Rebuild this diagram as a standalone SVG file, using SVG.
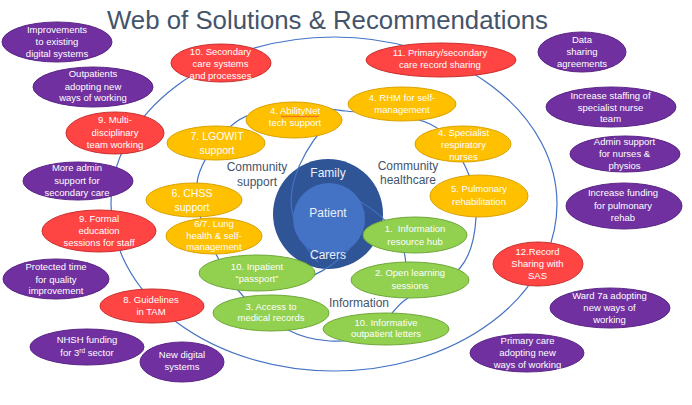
<svg xmlns="http://www.w3.org/2000/svg" width="692" height="405" viewBox="0 0 692 405">
<style>
.bg{fill:#ffffff}
.ln{fill:none;stroke:#4472C4;stroke-width:1.2}
.p{fill:#7030A0;stroke:#5B2586;stroke-width:1}
.r{fill:#FF4444;stroke:#C9302C;stroke-width:1}
.y{fill:#FFC000;stroke:#D9A200;stroke-width:1}
.g{fill:#92D050;stroke:#6FA83A;stroke-width:1}
.t{font-family:"Liberation Sans",Arial,sans-serif;font-size:9.5px;fill:#ffffff;text-anchor:middle}
.tl{font-size:10.5px}
.lbl{font-family:"Liberation Sans",Arial,sans-serif;font-size:12px;fill:#44546A;text-anchor:middle}
.ctr{font-family:"Liberation Sans",Arial,sans-serif;font-size:12px;fill:#EAF0FA;text-anchor:middle}
</style>
<rect class="bg" x="0" y="0" width="692" height="405"/>
<text x="107" y="29" font-family="Liberation Sans, Arial, sans-serif" font-size="25" fill="#44546A" textLength="441" lengthAdjust="spacingAndGlyphs">Web of Solutions &amp; Recommendations</text>

<g id="hub">
<circle cx="328" cy="214" r="55" fill="#2F5597"/>
<circle cx="329" cy="219" r="36" fill="#4472C4"/>
</g>

<g id="connectors">
<ellipse class="ln" cx="334" cy="204" rx="223" ry="167"/>
<path class="ln" d="M346,111 C369.3,113.8 410,114.5 430,124 C450,133.5 458.3,152.3 466,168 C473.7,183.7 477,201.3 476,218 C475,234.7 471.8,254.3 460,268 C448.2,281.7 419.7,289 405,300 C390.3,311 384.5,327.2 372,334 C359.5,340.8 344,341.7 330,341 C316,340.3 302.5,337.5 288,330 C273.5,322.5 254.8,308.3 243,296 C231.2,283.7 224.2,269.5 217,256 C209.8,242.5 202.8,229.2 200,215 C197.2,200.8 194,186.5 200,171 C206,155.5 221,132.7 236,122 C251,111.3 271.7,108.8 290,107 C308.3,105.2 322.7,108.2 346,111 Z"/>
<path class="ln" d="M333,118 C305,145 285,185 293,215 C298,235 305,248 318,262"/>
<path class="ln" d="M265,289 C300,286 350,265 362,225"/>
<path class="ln" d="M345,195 C360,200 380,212 395,232 C405,245 408,262 405,285"/>
</g>

<g id="hub-labels">
<text class="ctr" x="328" y="177">Family</text>
<text class="ctr" x="328" y="217">Patient</text>
<text class="ctr" x="328" y="259">Carers</text>
</g>

<g id="sector-labels">
<text class="lbl" x="257" y="171">Community</text>
<text class="lbl" x="257" y="186">support</text>
<text class="lbl" x="408" y="169.5">Community</text>
<text class="lbl" x="408" y="184">healthcare</text>
<text class="lbl" x="359" y="307">Information</text>
</g>

<g id="n1"><ellipse class="p" cx="57" cy="42" rx="55" ry="20"/><text class="t"><tspan x="57" y="33.3">Improvements</tspan><tspan x="57" y="45.3">to existing</tspan><tspan x="57" y="57.3">digital systems</tspan></text></g>
<g id="n2"><ellipse class="p" cx="93" cy="87" rx="60" ry="20"/><text class="t"><tspan x="93" y="77.3">Outpatients</tspan><tspan x="93" y="90.3">adopting new</tspan><tspan x="93" y="101.3">ways of working</tspan></text></g>
<g id="n3"><ellipse class="r" cx="115" cy="133" rx="49" ry="21"/><text class="t"><tspan x="115" y="123.3">9. Multi-</tspan><tspan x="115" y="136.3">disciplinary</tspan><tspan x="115" y="148.3">team working</tspan></text></g>
<g id="n4"><ellipse class="p" cx="78" cy="181" rx="55" ry="19"/><text class="t"><tspan x="77" y="171.3">More admin</tspan><tspan x="77" y="184.3">support for</tspan><tspan x="77" y="196.3">secondary care</tspan></text></g>
<g id="n5"><ellipse class="r" cx="99" cy="231" rx="57" ry="21"/><text class="t"><tspan x="99" y="222.3">9. Formal</tspan><tspan x="99" y="234.3">education</tspan><tspan x="99" y="246.3">sessions for staff</tspan></text></g>
<g id="n6"><ellipse class="p" cx="56" cy="279" rx="53" ry="20"/><text class="t"><tspan x="56" y="270.3">Protected time</tspan><tspan x="56" y="283.3">for quality</tspan><tspan x="56" y="294.3">improvement</tspan></text></g>
<g id="n7"><ellipse class="r" cx="152" cy="306" rx="52" ry="17"/><text class="t"><tspan x="151" y="303.3">8. Guidelines</tspan><tspan x="151" y="315.3">in TAM</tspan></text></g>
<g id="n8"><ellipse class="p" cx="87" cy="347" rx="57" ry="18"/><text class="t"><tspan x="87" y="343.3">NHSH funding</tspan><tspan x="87" y="356.3">for 3<tspan font-size="6.5" dy="-3.5">rd</tspan><tspan dy="3.5"> sector</tspan></tspan></text></g>
<g id="n9"><ellipse class="p" cx="182" cy="362" rx="42" ry="20"/><text class="t"><tspan x="182" y="358.3">New digital</tspan><tspan x="182" y="370.3">systems</tspan></text></g>

<g id="n10"><ellipse class="p" cx="582" cy="52" rx="44" ry="20"/><text class="t"><tspan x="582" y="43.3">Data</tspan><tspan x="582" y="55.3">sharing</tspan><tspan x="582" y="67.3">agreements</tspan></text></g>
<g id="n11"><ellipse class="p" cx="611" cy="107" rx="65" ry="20"/><text class="t"><tspan x="610.5" y="99.3">Increase staffing of</tspan><tspan x="610.5" y="111.3">specialist nurse</tspan><tspan x="610.5" y="122.3">team</tspan></text></g>
<g id="n12"><ellipse class="p" cx="625" cy="154" rx="55" ry="18"/><text class="t"><tspan x="624.5" y="145.3">Admin support</tspan><tspan x="624.5" y="157.3">for nurses &amp;</tspan><tspan x="624.5" y="169.3">physios</tspan></text></g>
<g id="n13"><ellipse class="p" cx="624" cy="206" rx="58" ry="23"/><text class="t"><tspan x="623" y="196.3">Increase funding</tspan><tspan x="623" y="209.3">for pulmonary</tspan><tspan x="623" y="221.3">rehab</tspan></text></g>
<g id="n14"><ellipse class="r" cx="538" cy="264" rx="45" ry="22"/><text class="t"><tspan x="537.5" y="255.3">12.Record</tspan><tspan x="537.5" y="267.3">Sharing with</tspan><tspan x="537.5" y="279.3">SAS</tspan></text></g>
<g id="n15"><ellipse class="p" cx="610" cy="308" rx="60" ry="20"/><text class="t"><tspan x="609.5" y="299.3">Ward 7a adopting</tspan><tspan x="609.5" y="311.3">new ways of</tspan><tspan x="609.5" y="323.3">working</tspan></text></g>
<g id="n16"><ellipse class="p" cx="527" cy="353" rx="57" ry="19"/><text class="t"><tspan x="527.5" y="344.3">Primary care</tspan><tspan x="527.5" y="356.3">adopting new</tspan><tspan x="527.5" y="368.3">ways of working</tspan></text></g>

<g id="n17"><ellipse class="r" cx="221" cy="63" rx="50" ry="19"/><text class="t"><tspan x="220.5" y="55.3">10. Secondary</tspan><tspan x="220.5" y="67.3">care systems</tspan><tspan x="220.5" y="79.3">and processes</tspan></text></g>
<g id="n18"><ellipse class="r" cx="441" cy="60" rx="75" ry="17"/><text class="t"><tspan x="440" y="56.3">11. Primary/secondary</tspan><tspan x="440" y="68.3">care record sharing</tspan></text></g>

<g id="n19"><ellipse class="y" cx="294" cy="120" rx="48" ry="18"/><text class="t"><tspan x="295" y="114.3">4. AbilityNet</tspan><tspan x="295" y="126.3">tech support</tspan></text><path d="M281,116.5 q1,-1.2 2,0 t2,0 t2,0 t2,0 t2,0 t2,0 t2,0 t2,0 t2,0 t2,0 t2,0 t2,0 t2,0 t2,0 t2,0 t2,0 t2,0 t2,0 t2,0" fill="none" stroke="#E03030" stroke-width="0.7"/></g>
<g id="n20"><ellipse class="y" cx="402" cy="104" rx="54" ry="17"/><text class="t"><tspan x="402" y="101.3">4. RHM for self-</tspan><tspan x="402" y="113.3">management</tspan></text></g>
<g id="n21"><ellipse class="y" cx="463" cy="144" rx="48" ry="18"/><text class="t"><tspan x="463.5" y="136.3">4. Specialist</tspan><tspan x="463.5" y="148.3">respiratory</tspan><tspan x="463.5" y="160.3">nurses</tspan></text></g>
<g id="n22"><ellipse class="y" cx="479" cy="196" rx="49" ry="21"/><text class="t"><tspan x="479" y="192.3">5. Pulmonary</tspan><tspan x="479" y="205.3">rehabilitation</tspan></text></g>
<g id="n23"><ellipse class="y" cx="216" cy="143" rx="49" ry="17"/><text class="t tl"><tspan x="217" y="139.7">7. LGOWIT</tspan><tspan x="217" y="153.7">support</tspan></text></g>
<g id="n24"><ellipse class="y" cx="194" cy="200" rx="48" ry="17"/><text class="t tl"><tspan x="192" y="196.7">6. CHSS</tspan><tspan x="192" y="210.7">support</tspan></text></g>
<g id="n25"><ellipse class="y" cx="214" cy="236" rx="48" ry="18"/><text class="t"><tspan x="214" y="227.3">6/7. Lung</tspan><tspan x="214" y="239.3">health &amp; self-</tspan><tspan x="214" y="250.3">management</tspan></text></g>

<g id="n26"><ellipse class="g" cx="257" cy="273" rx="58" ry="18"/><text class="t"><tspan x="257" y="270.3">10. Inpatient</tspan><tspan x="257" y="282.3">“passport”</tspan></text></g>
<g id="n27"><ellipse class="g" cx="271" cy="313" rx="58" ry="18"/><text class="t"><tspan x="271" y="310.3">3. Access to</tspan><tspan x="271" y="321.3">medical records</tspan></text></g>
<g id="n28"><ellipse class="g" cx="386" cy="329" rx="63" ry="16"/><text class="t"><tspan x="386" y="326.3">10. Informative</tspan><tspan x="386" y="337.3">outpatient letters</tspan></text></g>
<g id="n29"><ellipse class="g" cx="410" cy="280" rx="59" ry="18"/><text class="t"><tspan x="410" y="276.3">2. Open learning</tspan><tspan x="410" y="289.3">sessions</tspan></text></g>
<g id="n30"><ellipse class="g" cx="415" cy="235" rx="52" ry="18"/><text class="t" xml:space="preserve"><tspan x="415" y="232.3">1.  Information</tspan><tspan x="415" y="245.3">resource hub</tspan></text></g>
</svg>
